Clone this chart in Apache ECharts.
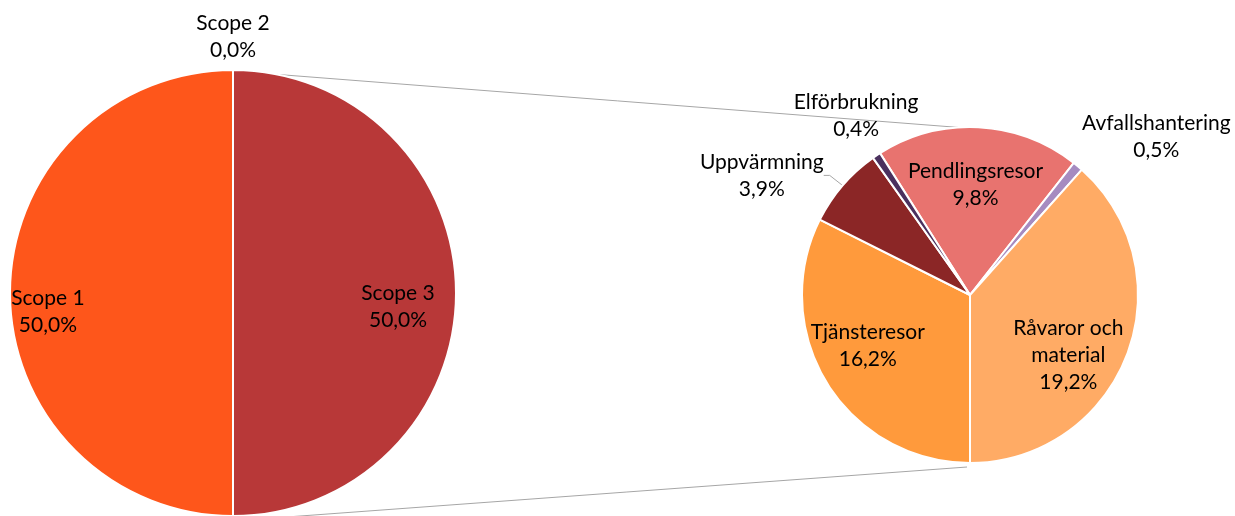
<!DOCTYPE html>
<html>
<head>
<meta charset="utf-8">
<script src="https://cdn.jsdelivr.net/npm/echarts@6/dist/echarts.min.js"></script>
<style>
html, body { margin: 0; padding: 0; background: #fff; }
#chart { width: 1235px; height: 516px; }
</style>
</head>
<body>
<div id="chart"></div>
<script>
// Vänster cirkel: scope
const scopeNames = ['Scope 1', 'Scope 2', 'Scope 3']
const scopeValues = [50.0, 0.0, 50.0]
const scopeColors = ['#FE561B', '#A5A5A5', '#B83838']

// Höger cirkel: uppdelning av Scope 3
const detailNames = ['Pendlingsresor', 'Avfallshantering', 'Råvaror och material', 'Tjänsteresor', 'Uppvärmning', 'Elförbrukning']
const detailValues = [9.8, 0.5, 19.2, 16.2, 3.9, 0.4]
const detailColors = ['#E8736F', '#A68BC0', '#FFAB65', '#FF9A3C', '#8B2626', '#4B305E']

// geometri (grader medurs från kl 12)
const big = { cx: 233, cy: 293, r: 223, start: 180 }
const small = { cx: 970, cy: 295, r: 168, start: -32.4 }

// etikettplacering: andel av radien + liten förskjutning i px
const bigSpots = [[0.83, 0, 19], [1.15, 0, 0], [0.74, 0, 14]]
const smallSpots = [[0.655, 0, 0], [1.458, 29, 29], [0.684, -9, 19], [0.68, -5, -9], [1.43, -26, 37], [1.26, 4, -3]]

const labelFont = { fontFamily: 'Lato', fontSize: 21, lineHeight: 27, color: '#000' }

function midAngle (values, i, start) {
  let total = values.reduce((a, b) => a + b, 0)
  let before = 0
  for (let j = 0; j < i; j++) before += values[j]
  return start + (before + values[i] / 2) / total * 360
}

function fmt (params) {
  let name = params.name.replace(' och ', ' och\n')
  return name + '\n' + params.value.toFixed(1).replace('.', ',') + '%'
}

function spotLayout (geo, values, spots) {
  return function (params) {
    let a = midAngle(values, params.dataIndex, geo.start) * Math.PI / 180
    let s = spots[params.dataIndex]
    return {
      x: geo.cx + Math.sin(a) * geo.r * s[0] + s[1],
      y: geo.cy - Math.cos(a) * geo.r * s[0] + s[2],
      align: 'center',
      verticalAlign: 'middle'
    }
  }
}

function pointOn (geo, deg) {
  let a = deg * Math.PI / 180
  return [geo.cx + Math.sin(a) * geo.r, geo.cy - Math.cos(a) * geo.r]
}

let myChart = echarts.init(document.getElementById('chart'))

let topFrom = pointOn(big, 11.4)
let topTo = pointOn(small, -4)
let botTo = [small.cx - 3, small.cy + small.r + 4]
let botFrom = [big.cx, botTo[1] + 0.0735 * (botTo[0] - big.cx)]

myChart.setOption({
  animation: false,
  graphic: [
    { type: 'line', z: 0, shape: { x1: topFrom[0], y1: topFrom[1], x2: topTo[0], y2: topTo[1] }, style: { stroke: '#A6A6A6', lineWidth: 1 } },
    { type: 'line', z: 0, shape: { x1: botFrom[0], y1: botFrom[1], x2: botTo[0], y2: botTo[1] }, style: { stroke: '#A6A6A6', lineWidth: 1 } }
  ],
  series: [
    {
      type: 'pie',
      center: [big.cx, big.cy],
      radius: big.r,
      startAngle: 90 - big.start,
      clockwise: true,
      avoidLabelOverlap: false,
      itemStyle: { borderColor: '#fff', borderWidth: 2 },
      label: Object.assign({ position: 'inside', formatter: fmt }, labelFont),
      labelLine: { show: false },
      labelLayout: spotLayout(big, scopeValues, bigSpots),
      data: scopeNames.map((n, i) => ({ name: n, value: scopeValues[i], itemStyle: { color: scopeColors[i] } }))
    },
    {
      type: 'pie',
      center: [small.cx, small.cy],
      radius: small.r,
      startAngle: 90 - small.start,
      clockwise: true,
      avoidLabelOverlap: false,
      itemStyle: { borderColor: '#fff', borderWidth: 2 },
      label: Object.assign({ position: 'inside', formatter: fmt }, labelFont),
      labelLine: { show: false },
      labelLayout: spotLayout(small, detailValues, smallSpots),
      data: detailNames.map((n, i) => {
        let item = { name: n, value: detailValues[i], itemStyle: { color: detailColors[i] } }
        if (n === 'Uppvärmning') {
          item.label = { position: 'outside' }
          item.labelLine = { show: true, length: 8, length2: 6, lineStyle: { color: '#A6A6A6', width: 1 } }
        }
        return item
      })
    }
  ]
})
</script>
</body>
</html>
